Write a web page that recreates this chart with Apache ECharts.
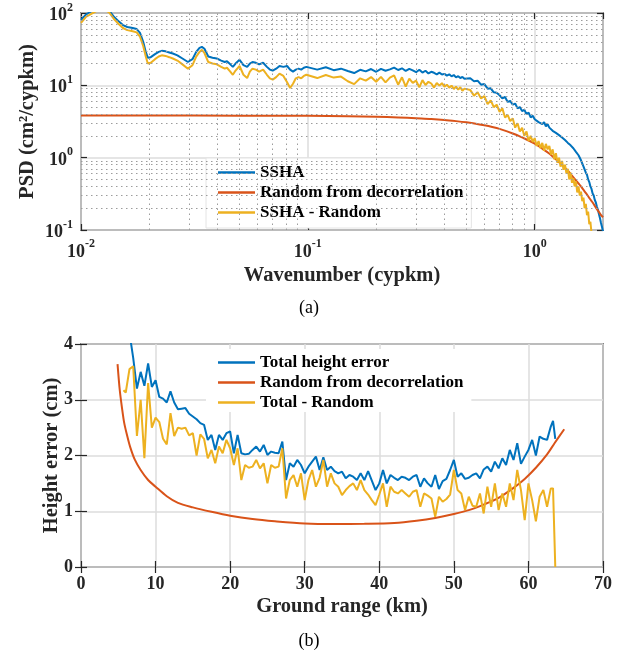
<!DOCTYPE html>
<html>
<head>
<meta charset="utf-8">
<script src="https://cdn.jsdelivr.net/npm/echarts@6/dist/echarts.min.js"></script>
<style>
html,body{margin:0;padding:0;background:#fff;}
#chart{width:618px;height:654px;}
</style>
</head>
<body>
<div id="chart"></div>
<script>
// ---------- Panel (a): PSD vs wavenumber ----------
const psdFreq = [
  0.0100, 0.0105, 0.0110, 0.0118, 0.0126, 0.0133, 0.0140, 0.0147, 0.0153, 0.0160,
  0.0169, 0.0176, 0.0182, 0.0188, 0.0193, 0.0197, 0.0203, 0.0212, 0.0220, 0.0227,
  0.0236, 0.0245, 0.0254, 0.0266, 0.0280, 0.0296, 0.0310, 0.0322, 0.0333, 0.0341,
  0.0350, 0.0364, 0.0380, 0.0397, 0.0415, 0.0430, 0.0440, 0.0455, 0.0467, 0.0480,
  0.0500, 0.0520, 0.0540, 0.0555, 0.0570, 0.0590, 0.0610, 0.0635, 0.0660, 0.0680,
  0.0700, 0.0725, 0.0750, 0.0780, 0.0810, 0.0835, 0.0860, 0.0885, 0.0910, 0.0935,
  0.0960, 0.0985,
  0.10, 0.11, 0.12, 0.13, 0.14, 0.15, 0.16, 0.17, 0.18, 0.19,
  0.20, 0.21, 0.22, 0.23, 0.24, 0.25, 0.26, 0.27, 0.28, 0.29,
  0.30, 0.31, 0.32, 0.33, 0.34, 0.35, 0.36, 0.37, 0.38, 0.39,
  0.40, 0.41, 0.42, 0.43, 0.44, 0.45, 0.46, 0.47, 0.48, 0.49, 0.50,
  0.52, 0.54, 0.56, 0.58, 0.60, 0.62, 0.64, 0.66, 0.68, 0.70,
  0.72, 0.74, 0.76, 0.78, 0.80, 0.82, 0.84, 0.86, 0.88, 0.90,
  0.92, 0.94, 0.96, 0.98, 1.00, 1.02, 1.04, 1.06, 1.08, 1.10,
  1.12, 1.14, 1.16, 1.18, 1.20, 1.22, 1.24, 1.26, 1.28, 1.30,
  1.32, 1.34, 1.36, 1.38, 1.40, 1.42, 1.44, 1.46, 1.48, 1.50,
  1.52, 1.54, 1.56, 1.58, 1.60, 1.62, 1.64, 1.66, 1.68, 1.70,
  1.72, 1.74, 1.76, 1.78, 1.80, 1.82, 1.84, 1.86, 1.88, 1.90,
  1.92, 1.94, 1.96, 1.98, 2.00
];
const psdSSHA = [
  80, 95, 104, 115, 120, 108, 88, 76, 68, 64,
  62, 60, 53, 40, 29, 24, 24.5, 27, 29, 30,
  29.5, 28.5, 27.5, 26, 23.5, 21, 23, 29, 33, 34,
  32, 25, 24, 23.5, 22, 21, 21.5, 19.5, 18, 20,
  22.5, 19, 18, 20, 21, 20.5, 19.5, 20.5, 18, 16.5,
  16, 17, 18.5, 18, 18.5, 16.5, 15.5, 16.5, 17, 16.5,
  17.5, 18,
  17.5, 16.5, 17.8, 16.2, 17.0, 15.8, 14.8, 16.4, 15.6, 16.8,
  15.4, 16.9, 15.9, 16.6, 17.6, 16.3, 17.2, 15.8, 16.9, 16.1,
  15.2, 16.4, 15.0, 15.9, 14.6, 15.4, 14.9, 14.2, 15.0, 14.1,
  14.4, 13.6, 14.2, 13.3, 13.9, 12.9, 13.4, 12.6, 13.1, 12.3, 12.8,
  12.5, 11.4, 11.6, 10.2, 10.4, 9.0, 9.1, 8.0, 7.9, 7.3,
  6.6, 6.9, 5.9, 6.1, 5.4, 5.6, 4.8, 5.0, 4.4, 4.6,
  4.0, 4.2, 3.6, 3.8, 3.4, 3.6, 3.1, 3.3, 2.9, 3.1,
  2.7, 2.9, 2.6, 2.7, 2.35, 2.5, 2.2, 2.3, 2.05, 2.15,
  1.9, 2.0, 1.75, 1.85, 1.6, 1.7, 1.48, 1.55, 1.35, 1.4,
  1.2, 1.25, 1.08, 1.05, 0.92, 0.88, 0.76, 0.72, 0.62, 0.58,
  0.5, 0.46, 0.4, 0.37, 0.32, 0.3, 0.26, 0.24, 0.21, 0.19,
  0.165, 0.145, 0.125, 0.11, 0.095
];
const psdDiff = [
  73, 88, 96, 108, 113, 102, 82, 70, 62, 58,
  56, 54, 47, 35, 25, 20, 20.5, 23, 25, 26,
  25.5, 24.5, 23.5, 22, 19.5, 17, 19, 25, 29, 31,
  28, 21, 20, 19.5, 18, 17, 17.5, 15.5, 14, 16,
  18.5, 14, 12.6, 15.5, 17, 16.5, 15.5, 16.5, 14, 12.5,
  12, 13, 14.5, 13.5, 11, 9.2, 10.5, 12.5, 13, 12.5,
  13.5, 14,
  14.2, 12.6, 13.9, 12.8, 13.2, 11.4, 10.4, 12.5, 11.6, 13.0,
  11.2, 13.1, 11.0, 12.8, 13.7, 10.2, 12.9, 9.6, 12.4, 10.8,
  11.6, 9.4, 11.8, 10.1, 11.2, 10.6, 9.3, 10.8, 9.9, 10.7,
  9.6, 10.2, 9.3, 9.9, 8.9, 9.6, 8.7, 9.4, 8.4, 9.0, 8.5,
  8.6, 7.2, 8.0, 6.6, 7.1, 5.5, 6.2, 5.0, 5.4, 4.3,
  4.8, 3.6, 3.9, 3.2, 3.5, 2.6, 3.0, 2.3, 2.6, 2.0,
  2.3, 1.7, 2.0, 1.65, 1.85, 1.45, 1.7, 1.35, 1.6, 1.25,
  1.55, 1.3, 1.45, 1.1, 1.3, 0.95, 1.15, 0.85, 1.0, 0.75,
  0.9, 0.68, 0.8, 0.6, 0.7, 0.5, 0.62, 0.45, 0.52, 0.4,
  0.47, 0.33, 0.4, 0.3, 0.34, 0.25, 0.28, 0.2, 0.23, 0.16,
  0.18, 0.12, 0.13, 0.09, null, null, null, null, null, null,
  null, null, null, null, null
];
const randomFreq = [
  0.01, 0.02, 0.05, 0.1, 0.15, 0.2, 0.25, 0.3, 0.35, 0.4,
  0.45, 0.5, 0.55, 0.6, 0.65, 0.7, 0.75, 0.8, 0.85, 0.9,
  0.95, 1.0, 1.05, 1.1, 1.15, 1.2, 1.25, 1.3, 1.35, 1.4,
  1.45, 1.5, 1.55, 1.6, 1.65, 1.7, 1.75, 1.8, 1.85, 1.9,
  1.95, 2.0
];
const psdRandom = [
  3.82, 3.82, 3.81, 3.79, 3.74, 3.68, 3.6, 3.5, 3.42, 3.32,
  3.2, 3.08, 2.95, 2.8, 2.65, 2.5, 2.33, 2.16, 2.0, 1.84,
  1.7, 1.56, 1.42, 1.28, 1.16, 1.04, 0.93, 0.83, 0.74, 0.66,
  0.58, 0.51, 0.45, 0.4, 0.35, 0.31, 0.27, 0.24, 0.21, 0.185,
  0.165, 0.15
];
const psdNames = ['SSHA', 'Random from decorrelation', 'SSHA - Random'];

// ---------- Panel (b): height error vs ground range ----------
const groundRange = [
  5.7, 6.0, 6.5, 7.0, 7.5, 8.0, 8.5, 9.0, 9.5, 10.0,
  10.5, 11.0, 11.5, 12.0, 12.5, 13.0, 13.5, 14.0, 14.5, 15.0,
  15.5, 16.0, 16.5, 17.0, 17.5, 18.0, 18.5, 19.0, 19.5, 20.0,
  20.5, 21.0, 21.5, 22.0, 22.5, 23.0, 23.5, 24.0, 24.5, 25.0,
  25.5, 26.0, 26.5, 27.0, 27.5, 28.0, 28.5, 29.0, 29.5, 30.0,
  30.5, 31.0, 31.5, 32.0, 32.5, 33.0, 33.5, 34.0, 34.5, 35.0,
  35.5, 36.0, 36.5, 37.0, 37.5, 38.0, 38.5, 39.0, 39.5, 40.0,
  40.5, 41.0, 41.5, 42.0, 42.5, 43.0, 43.5, 44.0, 44.5, 45.0,
  45.5, 46.0, 46.5, 47.0, 47.5, 48.0, 48.5, 49.0, 49.5, 50.0,
  50.5, 51.0, 51.5, 52.0, 52.5, 53.0, 53.5, 54.0, 54.5, 55.0,
  55.5, 56.0, 56.5, 57.0, 57.5, 58.0, 58.5, 59.0, 59.5, 60.0,
  60.5, 61.0, 61.5, 62.0, 62.5, 63.0, 63.3, 63.6
];
const heightTotal = [
  null, 4.4, 4.2, 3.75, 3.2, 3.5, 3.25, 3.65, 3.23, 3.35,
  3.05, 3.02, 2.95, 3.15, 2.95, 2.83, 2.84, 2.85, 2.75, 2.7,
  2.65, 2.58, 2.55, 2.28, 2.37, 2.1, 2.37, 2.28, 2.4, 2.43,
  2.04, 2.37, 2.04, 2.02, 2.03, 2.1, 2.16, 2.07, 2.19, 2.01,
  2.07, 2.05, 2.04, 2.25, 1.56, 1.86, 1.8, 1.92, 1.83, 1.68,
  1.8, 1.89, 1.98, 1.74, 1.97, 1.74, 1.8, 1.72, 1.68, 1.71,
  1.59, 1.65, 1.62, 1.56, 1.68, 1.56, 1.72, 1.55, 1.38, 1.5,
  1.74, 1.5, 1.65, 1.6, 1.56, 1.62, 1.6, 1.56, 1.62, 1.65,
  1.44, 1.59, 1.5, 1.44, 1.65, 1.4, 1.54, 1.58, 1.74, 1.92,
  1.62, 1.68, 1.58, 1.6, 1.65, 1.68, 1.59, 1.75, 1.8, 1.71,
  1.89, 1.77, 1.95, 1.83, 2.1, 1.92, 2.22, 1.85, 1.98, 2.1,
  2.28, 2.0, 2.34, 2.3, 2.28, 2.52, 2.62, 2.3
];
const heightDiff = [
  3.17, 3.13, 3.55, 3.6, 2.35, 3.0, 1.95, 3.3, 2.5, 2.68,
  2.6, 2.3, 2.2, 2.76, 2.35, 2.5, 2.48, 2.5, 2.36, 2.4,
  2.0, 2.38, 2.3, 1.95, 2.1, 1.86, 2.16, 2.04, 2.28, 2.13,
  1.83, 2.13, 1.56, 1.83, 1.78, 1.8, 1.92, 1.77, 1.86, 1.5,
  1.83, 1.78, 1.8, 2.13, 1.23, 1.56, 1.65, 1.44, 1.68, 1.2,
  1.56, 1.74, 1.44, 1.6, 1.92, 1.44, 1.68, 1.5, 1.44, 1.29,
  1.38, 1.45, 1.5, 1.38, 1.56, 1.38, 1.3, 1.2, 1.11, 1.3,
  1.5, 1.08, 1.44, 1.35, 1.32, 1.38, 1.32, 1.26, 1.35, 1.38,
  1.08, 1.32, 1.28, 1.23, 0.9, 1.26, 1.17, 1.22, 1.3, 1.74,
  1.38, 1.32, 1.02, 1.26, 1.1, 1.08, 1.32, 0.96, 1.44, 1.08,
  1.5, 1.02, 1.32, 1.08, 1.5, 1.2, 1.74, 1.38, 0.84, 1.5,
  1.2, 0.82, 1.26, 1.38, 1.08, 1.41, 1.41, 0
];
const randomRange = [
  4.9, 5.2, 5.5, 5.8, 6.2, 6.6, 7.2, 8.0, 9.0, 10.0,
  11.5, 13.0, 15.0, 17.5, 20.0, 23.0, 26.0, 30.0, 34.0, 38.0,
  42.0, 45.0, 47.5, 50.0, 52.0, 54.0, 56.0, 58.0, 59.5, 61.0,
  62.5, 63.5, 64.8
];
const heightRandom = [
  3.64, 3.17, 2.85, 2.58, 2.35, 2.15, 1.93, 1.74, 1.56, 1.44,
  1.27, 1.15, 1.07, 0.99, 0.92, 0.86, 0.82, 0.78, 0.77, 0.775,
  0.79, 0.83, 0.88, 0.95, 1.02, 1.12, 1.24, 1.42, 1.58, 1.78,
  2.02, 2.22, 2.47
];
const heightNames = ['Total height error', 'Random from decorrelation', 'Total - Random'];

// tick labels
const rangeTicks = [0, 10, 20, 30, 40, 50, 60, 70];
const errorTicks = [0, 1, 2, 3, 4];

// minor (dotted) grid positions for the log panel
const minorX = [];
const minorY = [];
[-2, -1, 0].forEach(e => { for (let k = 2; k <= 9; k++) { const v = k * Math.pow(10, e); if (v < 2) minorX.push(v); } });
[-1, 0, 1].forEach(e => { for (let k = 2; k <= 9; k++) minorY.push(k * Math.pow(10, e)); });

const C_BLUE = '#0072BD', C_RED = '#D95319', C_YEL = '#EDB120';
const FONT = "'Liberation Serif', 'Times New Roman', serif";
const AX = '#262626';

const pairs = (xs, ys) => xs.map((x, i) => [x, ys[i]]);

const powRich = {
  b: { fontFamily: FONT, fontWeight: 'bold', fontSize: 18, color: AX, lineHeight: 23, verticalAlign: 'bottom' },
  s: { fontFamily: FONT, fontWeight: 'bold', fontSize: 12, color: AX, lineHeight: 23, verticalAlign: 'top' }
};
function powFmt(v) {
  const e = Math.log10(v);
  if (Math.abs(e - Math.round(e)) > 1e-6) return '';
  return '{b|10}{s|' + Math.round(e) + '}';
}
const nameStyle = { fontFamily: FONT, fontWeight: 'bold', fontSize: 20.5, color: AX };
const labStyle = { fontFamily: FONT, fontWeight: 'bold', fontSize: 18, color: AX };
const tickStyle = { inside: true, length: 6, lineStyle: { color: AX, width: 1.2 } };
const majorGrid = { show: true, lineStyle: { color: '#dcdcdc', width: 1.5 } };

const lineSeries = (name, data, color, xi, yi, extra) => Object.assign({
  name, type: 'line', data, xAxisIndex: xi, yAxisIndex: yi,
  symbol: 'none', showSymbol: false, clip: true, z: 3,
  lineStyle: { color, width: 2 }, itemStyle: { color }, emphasis: { disabled: true }
}, extra || {});

const LINE_ICON = 'path://M0,0 L37,0 L37,2.4 L0,2.4 Z';
const legendBase = {
  orient: 'vertical', itemWidth: 37, itemHeight: 14, itemGap: 3,
  icon: LINE_ICON, symbolKeepAspect: true,
  backgroundColor: '#ffffff', selectedMode: false,
  textStyle: { fontFamily: FONT, fontWeight: 'bold', fontSize: 17, color: '#000' }
};

const option = {
  animation: false,
  backgroundColor: '#ffffff',
  grid: [
    { left: 81, right: 15, top: 13, height: 217, show: true, borderColor: AX, borderWidth: 1.5, backgroundColor: 'transparent' },
    { left: 81, right: 15, top: 344, height: 223, show: true, borderColor: AX, borderWidth: 1.5, backgroundColor: 'transparent' }
  ],
  xAxis: [
    { gridIndex: 0, type: 'log', logBase: 10, min: 0.01, max: 2,
      axisLine: { show: false }, axisTick: tickStyle,
      axisLabel: { margin: 8, formatter: powFmt, rich: powRich, showMaxLabel: false },
      splitLine: majorGrid,
      name: 'Wavenumber (cypkm)', nameLocation: 'middle', nameGap: 35, nameMoveOverlap: false, nameTextStyle: nameStyle },
    { gridIndex: 0, type: 'log', logBase: 10, min: 0.01, max: 2, position: 'top',
      axisLine: { show: false }, axisTick: tickStyle, axisLabel: { show: false }, splitLine: { show: false } },
    { gridIndex: 1, type: 'value', min: rangeTicks[0], max: rangeTicks[rangeTicks.length - 1], interval: 10,
      axisLine: { show: false }, axisTick: tickStyle,
      axisLabel: Object.assign({ margin: 8 }, labStyle),
      splitLine: majorGrid,
      name: 'Ground range (km)', nameLocation: 'middle', nameGap: 29, nameMoveOverlap: false, nameTextStyle: nameStyle },
    { gridIndex: 1, type: 'value', min: 0, max: 70, interval: 10, position: 'top',
      axisLine: { show: false }, axisTick: tickStyle, axisLabel: { show: false }, splitLine: { show: false } }
  ],
  yAxis: [
    { gridIndex: 0, type: 'log', logBase: 10, min: 0.1, max: 100,
      axisLine: { show: false }, axisTick: tickStyle,
      axisLabel: { margin: 8, formatter: powFmt, rich: powRich },
      splitLine: majorGrid,
      name: 'PSD (cm\u00B2/cypkm)', nameLocation: 'middle', nameGap: 43, nameMoveOverlap: false, nameTextStyle: nameStyle },
    { gridIndex: 0, type: 'log', logBase: 10, min: 0.1, max: 100, position: 'right',
      axisLine: { show: false }, axisTick: tickStyle, axisLabel: { show: false }, splitLine: { show: false } },
    { gridIndex: 1, type: 'value', min: errorTicks[0], max: errorTicks[errorTicks.length - 1], interval: 1,
      axisLine: { show: false }, axisTick: tickStyle,
      axisLabel: Object.assign({ margin: 8 }, labStyle),
      splitLine: majorGrid,
      name: 'Height error (cm)', nameLocation: 'middle', nameGap: 19, nameMoveOverlap: false, nameTextStyle: nameStyle },
    { gridIndex: 1, type: 'value', min: 0, max: 4, interval: 1, position: 'right',
      axisLine: { show: false }, axisTick: tickStyle, axisLabel: { show: false }, splitLine: { show: false } }
  ],
  legend: [
    Object.assign({}, legendBase, { data: psdNames, left: 206, top: 158, padding: [6, 8, 7, 12],
      borderColor: '#e4e4e4', borderWidth: 1 }),
    Object.assign({}, legendBase, { data: heightNames, left: 206, top: 349, padding: [5, 8, 1, 12] })
  ],
  graphic: [
    { type: 'text', left: 'center', top: 299, style: { text: '(a)', fontFamily: FONT, fontSize: 18, fill: '#000' } },
    { type: 'text', left: 'center', top: 632, style: { text: '(b)', fontFamily: FONT, fontSize: 18, fill: '#000' } }
  ],
  series: [
    { name: 'minor-grid', type: 'line', xAxisIndex: 0, yAxisIndex: 0, data: [], z: 1,
      markLine: { silent: true, symbol: ['none', 'none'], label: { show: false }, animation: false,
        lineStyle: { color: '#9c9c9c', width: 1, type: [1.5, 3.5] },
        emphasis: { disabled: true },
        data: minorX.map(v => ({ xAxis: v })).concat(minorY.map(v => ({ yAxis: v }))) } },
    lineSeries(psdNames[0], pairs(psdFreq, psdSSHA), C_BLUE, 0, 0),
    lineSeries(psdNames[1], pairs(randomFreq, psdRandom), C_RED, 0, 0, { smooth: 0.3 }),
    lineSeries(psdNames[2], pairs(psdFreq, psdDiff), C_YEL, 0, 0, { connectNulls: false }),
    lineSeries(heightNames[0], pairs(groundRange, heightTotal), C_BLUE, 2, 2),
    lineSeries(heightNames[1], pairs(randomRange, heightRandom), C_RED, 2, 2, { smooth: 0.3 }),
    lineSeries(heightNames[2], pairs(groundRange, heightDiff), C_YEL, 2, 2)
  ]
};

const chart = echarts.init(document.getElementById('chart'), null, { renderer: 'canvas' });
chart.setOption(option);
</script>
</body>
</html>
